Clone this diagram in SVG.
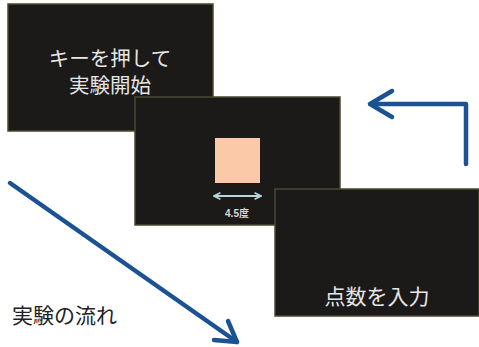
<svg xmlns="http://www.w3.org/2000/svg" width="479" height="347" viewBox="0 0 479 347">
<style>
.screen{fill:#1c1a19;stroke:#4a4830;stroke-width:1.5}
.jp{font-family:"Noto Sans CJK JP","Noto Sans",sans-serif;fill:#e6e6e6;text-anchor:middle}
.flow{fill:none;stroke:#1a5293;stroke-width:4.5;stroke-linecap:round;stroke-linejoin:round}
</style>
<defs>
<marker id="dbl" viewBox="0 0 10 10" refX="9" refY="5" markerWidth="4" markerHeight="4" orient="auto-start-reverse" markerUnits="strokeWidth">
<path d="M1,1 L9,5 L1,9" fill="none" stroke="#b8d6de" stroke-width="2"/>
</marker>
</defs>
<rect width="479" height="347" fill="#ffffff"/>
<g id="screen1">
<rect class="screen" x="8" y="4" width="205" height="127"/>
<text class="jp" font-size="20.5"><tspan x="110" y="66">キーを押して</tspan><tspan x="110" y="93">実験開始</tspan></text>
</g>
<g id="screen2">
<rect class="screen" x="135" y="97" width="205" height="128"/>
<rect x="215" y="138" width="45" height="45" fill="#fcc9a8"/>
<line x1="214" y1="196" x2="261" y2="196" stroke="#b8d6de" stroke-width="2" marker-start="url(#dbl)" marker-end="url(#dbl)"/>
<text x="237" y="217" font-family="'Liberation Sans','Noto Sans CJK JP',sans-serif" font-size="10" font-weight="bold" fill="#d8d8d8" text-anchor="middle">4.5度</text>
</g>
<g id="screen3">
<rect class="screen" x="275" y="189" width="204" height="127"/>
<text class="jp" x="377" y="304" font-size="21">点数を入力</text>
</g>
<g id="label">
<text x="12" y="323" font-family="'Noto Sans CJK JP',sans-serif" font-size="21" fill="#222222">実験の流れ</text>
</g>
<g id="connectors">
<path class="flow" d="M466,164 L466,104 L371,104"/>
<path class="flow" d="M392,91 L370,104 L392,117"/>
<path class="flow" d="M10,183 L237,342"/>
<path class="flow" d="M228,321 L237,342 L214,340"/>
</g>
</svg>
